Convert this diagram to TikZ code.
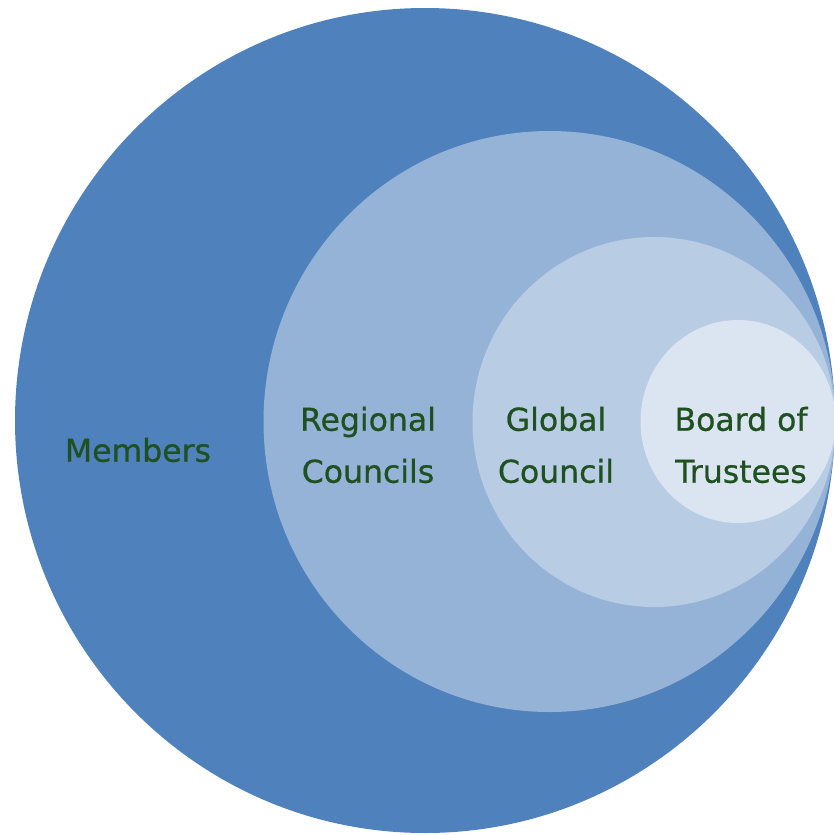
\documentclass[tikz,border=0pt]{standalone}
\usepackage{fontspec}
\setmainfont{DejaVu Sans}
\newfontfamily\lblfont{DejaVu Sans}[BoldFont={DejaVu Sans},BoldFeatures={FakeBold=0.7}]
\definecolor{cOne}{HTML}{4F81BD}
\definecolor{cTwo}{HTML}{95B3D7}
\definecolor{cThree}{HTML}{B8CCE4}
\definecolor{cFour}{HTML}{DBE5F1}
\definecolor{txtgreen}{HTML}{1F501F}
\begin{document}
\begin{tikzpicture}[x=1pt,y=-1pt,
  lbl/.style={text=txtgreen,font=\lblfont\bfseries\fontsize{31.5}{52}\selectfont,align=center,inner sep=0pt}]
\useasboundingbox (0,0) rectangle (834,835);
\clip (0,0) rectangle (834,835);
\fill[cOne] (425,420.5) ellipse [x radius=410,y radius=412.5];
\fill[cTwo] (549.5,421.5) ellipse [x radius=286,y radius=290.5];
\fill[cThree] (654,422) ellipse [x radius=181.5,y radius=185];
\fill[cFour] (738,421.5) ellipse [x radius=97.5,y radius=101.5];
\node[lbl] (members) at (138,450) {Members};
\node[lbl] (regional) at (368,445) {Regional\\Councils};
\node[lbl] (global) at (556,445) {Global\\Council};
\node[lbl] (board) at (741,445) {Board of\\Trustees};
\end{tikzpicture}
\end{document}
